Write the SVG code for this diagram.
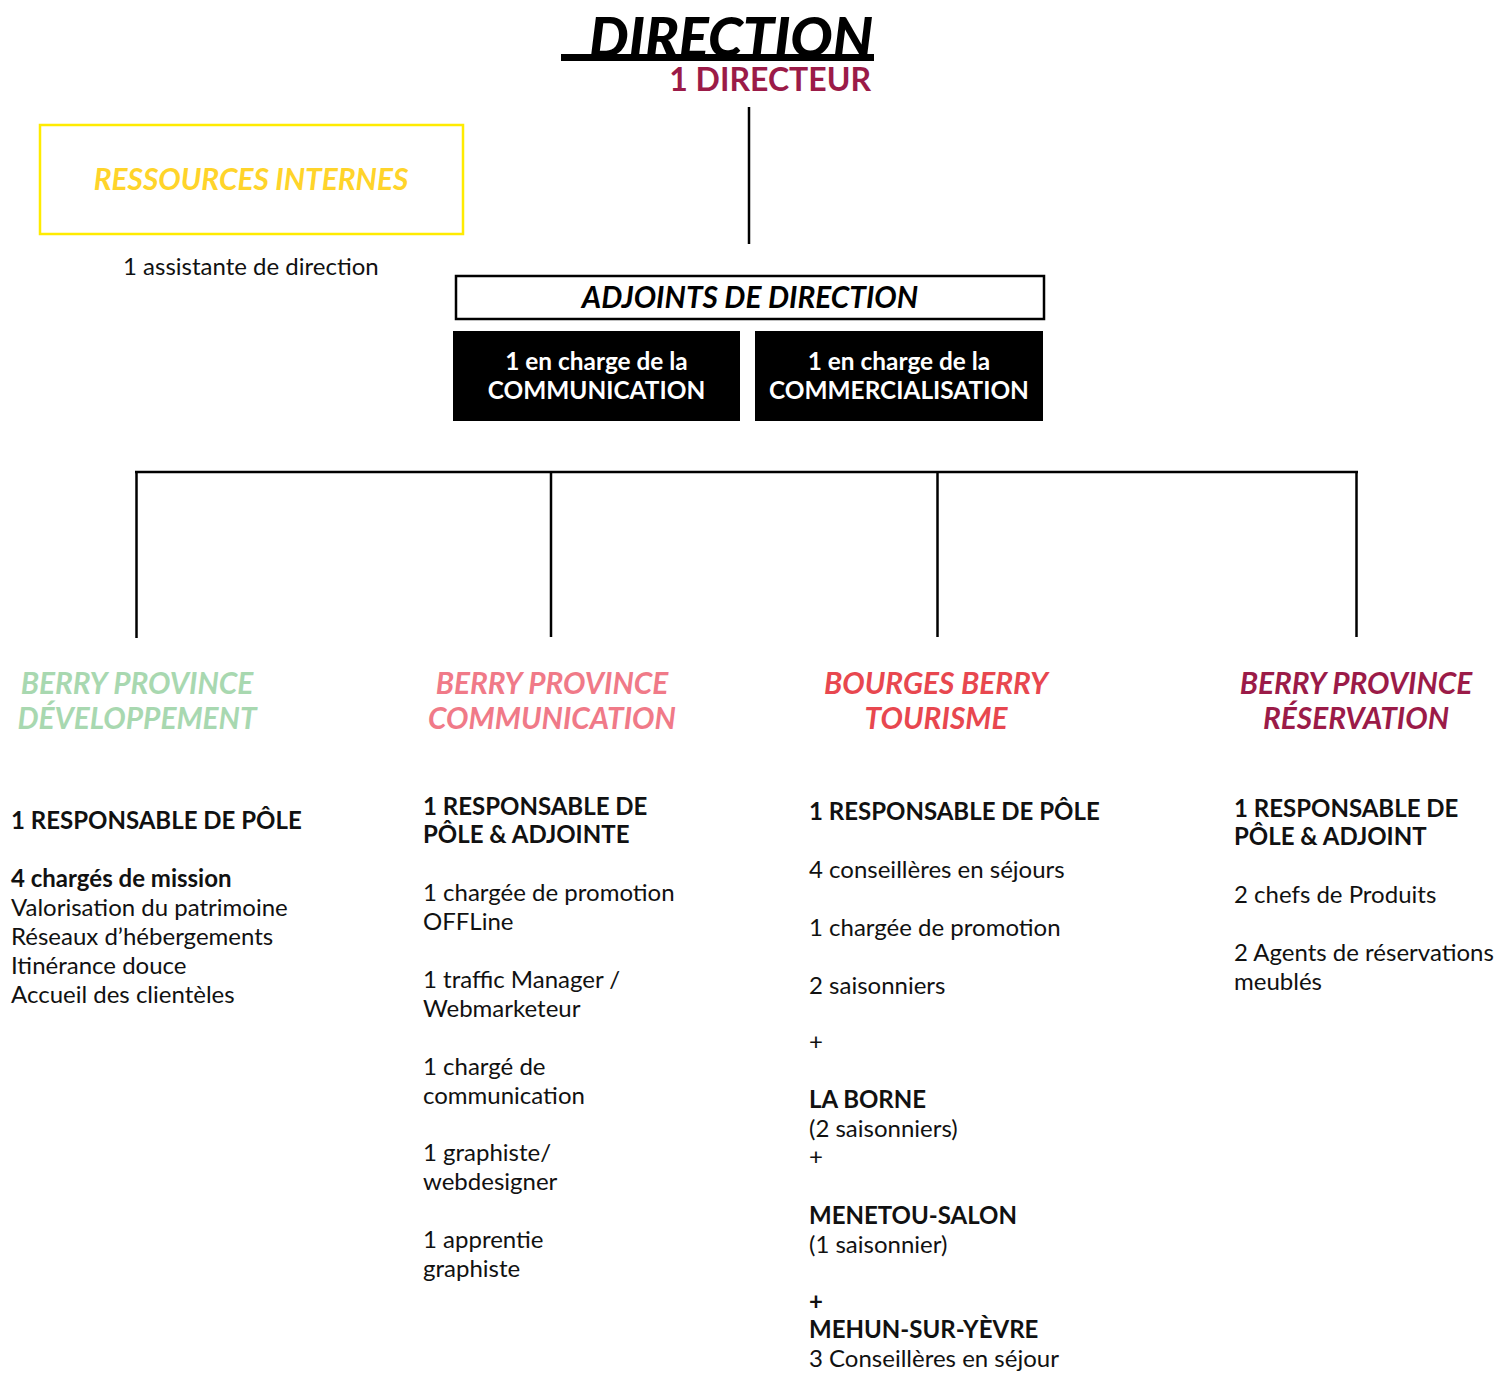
<svg xmlns="http://www.w3.org/2000/svg" width="1498" height="1373" viewBox="0 0 1498 1373">
<style>
text{font-family:Lato,"Noto Sans","Liberation Sans",sans-serif;}
.t{font-size:24px;fill:#111;}
.b{font-weight:700;}
.h{font-size:29.8px;font-weight:700;font-style:italic;text-anchor:middle;}
.w{font-size:24.4px;font-weight:700;fill:#fff;text-anchor:middle;}
.ln{stroke:#000;stroke-width:2.5;fill:none;}
</style>
<rect width="1498" height="1373" fill="#fff"/>
<g id="direction">
<text x="873" y="57" text-anchor="end" font-size="56" font-weight="900" font-style="italic" fill="#000">DIRECTION</text>
<rect x="561" y="54" width="313" height="7" fill="#000"/>
<text x="871" y="91" text-anchor="end" font-size="32" font-weight="700" fill="#9b1b48">1 DIRECTEUR</text>
</g>
<g id="ressources">
<rect x="40" y="125" width="423" height="109" fill="none" stroke="#ffeb00" stroke-width="2.5"/>
<text x="251" y="190" class="h" fill="#ffd42a">RESSOURCES INTERNES</text>
<text x="123" y="275" class="t">1 assistante de direction</text>
</g>
<g id="adjoints">
<rect x="456" y="276" width="588" height="43" fill="none" stroke="#000" stroke-width="2.5"/>
<text x="750" y="308" class="h" font-weight="900" fill="#000">ADJOINTS DE DIRECTION</text>
</g>
<g id="communication-adj">
<rect x="453" y="331" width="287" height="90" fill="#000"/>
<text x="596.5" y="370" class="w">1 en charge de la</text>
<text x="596.5" y="399" class="w">COMMUNICATION</text>
</g>
<g id="commercialisation-adj">
<rect x="755" y="331" width="288" height="90" fill="#000"/>
<text x="899" y="370" class="w">1 en charge de la</text>
<text x="899" y="399" class="w">COMMERCIALISATION</text>
</g>
<g id="connectors">
<line class="ln" x1="749" y1="107" x2="749" y2="244"/>
<line class="ln" x1="135" y1="472" x2="1358" y2="472"/>
<line class="ln" x1="136.5" y1="472" x2="136.5" y2="638"/>
<line class="ln" x1="551" y1="472" x2="551" y2="637"/>
<line class="ln" x1="937.5" y1="472" x2="937.5" y2="637"/>
<line class="ln" x1="1356.5" y1="472" x2="1356.5" y2="637"/>
</g>
<g id="developpement">
<text class="h" x="137" y="694" fill="#a8d8b0">BERRY PROVINCE</text>
<text class="h" x="137" y="729" fill="#a8d8b0">DÉVELOPPEMENT</text>
<text class="t b" x="11" y="829">1 RESPONSABLE DE PÔLE</text>
<text class="t b" x="11" y="887">4 chargés de mission</text>
<text class="t" x="11" y="916">Valorisation du patrimoine</text>
<text class="t" x="11" y="945">Réseaux d’hébergements</text>
<text class="t" x="11" y="974">Itinérance douce</text>
<text class="t" x="11" y="1003">Accueil des clientèles</text>
</g>
<g id="communication">
<text class="h" x="552" y="694" fill="#f07a88">BERRY PROVINCE</text>
<text class="h" x="552" y="729" fill="#f07a88">COMMUNICATION</text>
<text class="t b" x="423" y="815">1 RESPONSABLE DE</text>
<text class="t b" x="423" y="843">PÔLE &amp; ADJOINTE</text>
<text class="t" x="423" y="901">1 chargée de promotion</text>
<text class="t" x="423" y="930">OFFLine</text>
<text class="t" x="423" y="988">1 traffic Manager /</text>
<text class="t" x="423" y="1017">Webmarketeur</text>
<text class="t" x="423" y="1075">1 chargé de</text>
<text class="t" x="423" y="1104">communication</text>
<text class="t" x="423" y="1161">1 graphiste/</text>
<text class="t" x="423" y="1190">webdesigner</text>
<text class="t" x="423" y="1248">1 apprentie</text>
<text class="t" x="423" y="1277">graphiste</text>
</g>
<g id="tourisme">
<text class="h" x="936" y="694" fill="#e8474f">BOURGES BERRY</text>
<text class="h" x="936" y="729" fill="#e8474f">TOURISME</text>
<text class="t b" x="809" y="820">1 RESPONSABLE DE PÔLE</text>
<text class="t" x="809" y="878">4 conseillères en séjours</text>
<text class="t" x="809" y="936">1 chargée de promotion</text>
<text class="t" x="809" y="994">2 saisonniers</text>
<text class="t" x="809" y="1050">+</text>
<text class="t b" x="809" y="1108">LA BORNE</text>
<text class="t" x="809" y="1137">(2 saisonniers)</text>
<text class="t" x="809" y="1165">+</text>
<text class="t b" x="809" y="1224">MENETOU-SALON</text>
<text class="t" x="809" y="1253">(1 saisonnier)</text>
<text class="t b" x="809" y="1310">+</text>
<text class="t b" x="809" y="1338">MEHUN-SUR-YÈVRE</text>
<text class="t" x="809" y="1367">3 Conseillères en séjour</text>
</g>
<g id="reservation">
<text class="h" x="1356" y="694" fill="#9b1b48">BERRY PROVINCE</text>
<text class="h" x="1356" y="729" fill="#9b1b48">RÉSERVATION</text>
<text class="t b" x="1234" y="817">1 RESPONSABLE DE</text>
<text class="t b" x="1234" y="845">PÔLE &amp; ADJOINT</text>
<text class="t" x="1234" y="903">2 chefs de Produits</text>
<text class="t" x="1234" y="961">2 Agents de réservations</text>
<text class="t" x="1234" y="990">meublés</text>
</g>
</svg>
